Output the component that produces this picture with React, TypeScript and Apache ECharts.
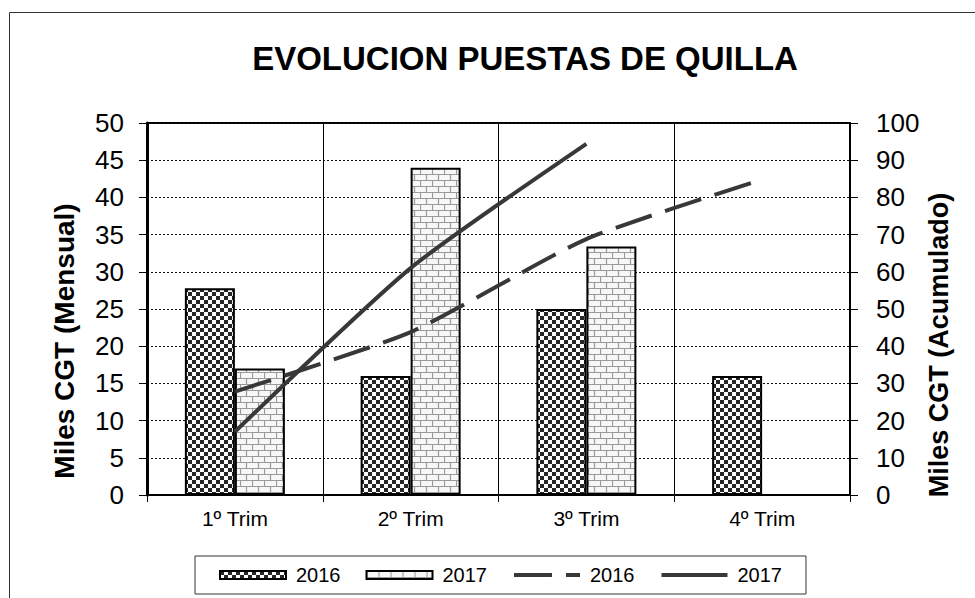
import React, { useEffect, useRef } from "react";
import * as echarts from "echarts";

const categories = ["1º Trim", "2º Trim", "3º Trim", "4º Trim"];
const bars2016 = [27.8, 16, 25, 16];
const bars2017: (number | null)[] = [17, 44, 33.4, null];
const cum2016 = [27.8, 43.8, 68.8, 84.8];
const cum2017: (number | null)[] = [17, 61, 94.4, null];
const seriesNames = ["2016 barras", "2017 barras", "2016 acum", "2017 acum"];
const titleText = "EVOLUCION PUESTAS DE QUILLA";
const leftName = "Miles CGT (Mensual)";
const rightName = "Miles CGT (Acumulado)";

const FONT = "'Liberation Sans', Arial, Helvetica, sans-serif";

function makeChecker(): HTMLCanvasElement {
  const c = document.createElement("canvas");
  c.width = 8;
  c.height = 8;
  const g = c.getContext("2d")!;
  g.fillStyle = "#ffffff";
  g.fillRect(0, 0, 8, 8);
  g.fillStyle = "#262626";
  g.fillRect(0, 0, 4, 4);
  g.fillRect(4, 4, 4, 4);
  return c;
}

function makeBrick(): HTMLCanvasElement {
  const c = document.createElement("canvas");
  c.width = 12;
  c.height = 12;
  const g = c.getContext("2d")!;
  g.fillStyle = "#f7f7f7";
  g.fillRect(0, 0, 12, 12);
  g.strokeStyle = "#9a9a9a";
  g.lineWidth = 1.2;
  g.beginPath();
  g.moveTo(0, 0.5);
  g.lineTo(12, 0.5);
  g.moveTo(0, 6.5);
  g.lineTo(12, 6.5);
  g.moveTo(0.5, 0);
  g.lineTo(0.5, 6.5);
  g.moveTo(6.5, 6.5);
  g.lineTo(6.5, 12);
  g.stroke();
  return c;
}

export default function App() {
  const ref = useRef<HTMLDivElement>(null);

  useEffect(() => {
    if (!ref.current) return;
    const chart = echarts.init(ref.current, undefined, { renderer: "svg" });
    const checker = { image: makeChecker(), repeat: "repeat" };
    const brick = { image: makeBrick(), repeat: "repeat" };

    const option: any = {
      animation: false,
      backgroundColor: "#ffffff",
      textStyle: { fontFamily: FONT },
      title: {
        text: titleText,
        left: 520,
        top: 37,
        textAlign: "center",
        textStyle: { fontSize: 33, fontWeight: "bold", color: "#000", fontFamily: FONT },
      },
      graphic: [
        {
          type: "rect",
          shape: { x: 9.5, y: 12.5, width: 1200, height: 1200 },
          style: { fill: "none", stroke: "#333", lineWidth: 1 },
          silent: true,
        },
        {
          type: "text",
          x: 64,
          y: 341,
          rotation: Math.PI / 2,
          style: {
            text: leftName,
            fontSize: 28,
            fontWeight: "bold",
            fontFamily: FONT,
            fill: "#000",
            align: "center",
            verticalAlign: "middle",
          },
        },
        {
          type: "text",
          x: 939,
          y: 345,
          rotation: Math.PI / 2,
          style: {
            text: rightName,
            fontSize: 27,
            fontWeight: "bold",
            fontFamily: FONT,
            fill: "#000",
            align: "center",
            verticalAlign: "middle",
          },
        },
      ],
      legend: {
        left: 195,
        top: 556,
        itemWidth: 66,
        itemHeight: 8,
        itemGap: 25,
        padding: [9, 24, 9, 24],
        borderColor: "#333",
        borderWidth: 1,
        formatter: (name: string) => name.slice(0, 4),
        textStyle: { fontSize: 20, color: "#000", fontFamily: FONT, padding: [0, 0, 0, 5] },
        data: [
          { name: seriesNames[0], icon: "rect" },
          { name: seriesNames[1], icon: "rect" },
          { name: seriesNames[2], lineStyle: { width: 4 }, itemStyle: { opacity: 0 } },
          { name: seriesNames[3], lineStyle: { width: 4 }, itemStyle: { opacity: 0 } },
        ],
      },
      grid: {
        left: 147,
        right: 125,
        top: 123,
        bottom: 103,
        show: true,
        borderColor: "#000",
        borderWidth: 2,
        backgroundColor: "transparent",
      },
      xAxis: {
        type: "category",
        data: categories,
        axisLine: { show: true, lineStyle: { color: "#000", width: 2 } },
        axisTick: { show: true, length: 7, lineStyle: { color: "#000", width: 1 } },
        axisLabel: { fontSize: 21, color: "#000", margin: 13, fontFamily: FONT },
        splitLine: { show: true, lineStyle: { color: "#000", width: 1, type: "solid" } },
      },
      yAxis: [
        {
          type: "value",
          min: 0,
          max: 50,
          interval: 5,
          position: "left",
          axisLine: { show: true, lineStyle: { color: "#000", width: 3 } },
          axisTick: { show: true, length: 8, lineStyle: { color: "#000", width: 1 } },
          axisLabel: { fontSize: 26, color: "#000", margin: 23, fontFamily: FONT },
          splitLine: { show: true, lineStyle: { color: "#111", width: 1, type: [2, 2] } },
        },
        {
          type: "value",
          min: 0,
          max: 100,
          interval: 10,
          position: "right",
          axisLine: { show: true, lineStyle: { color: "#000", width: 2 } },
          axisTick: { show: true, length: 8, lineStyle: { color: "#000", width: 1 } },
          axisLabel: { fontSize: 26, color: "#000", margin: 26, fontFamily: FONT },
          splitLine: { show: false },
        },
      ],
      series: [
        {
          name: seriesNames[0],
          type: "bar",
          data: bars2016,
          barWidth: 50,
          barGap: "0%",
          itemStyle: { color: checker, borderColor: "#000", borderWidth: 2 },
        },
        {
          name: seriesNames[1],
          type: "bar",
          data: bars2017,
          barWidth: 50,
          barGap: "0%",
          itemStyle: { color: brick, borderColor: "#000", borderWidth: 2 },
        },
        {
          name: seriesNames[2],
          type: "line",
          yAxisIndex: 1,
          data: cum2016,
          smooth: 0.2,
          symbol: "none",
          z: 5,
          lineStyle: { color: "#383838", width: 4, type: [38, 14] },
          itemStyle: { color: "#383838" },
        },
        {
          name: seriesNames[3],
          type: "line",
          yAxisIndex: 1,
          data: cum2017,
          smooth: 0.2,
          symbol: "none",
          z: 5,
          lineStyle: { color: "#383838", width: 4, type: "solid" },
          itemStyle: { color: "#383838" },
        },
      ],
    };

    chart.setOption(option);
    return () => chart.dispose();
  }, []);

  return (
    <div
      ref={ref}
      style={{ position: "fixed", left: 0, top: 0, width: 975, height: 598 }}
    />
  );
}
